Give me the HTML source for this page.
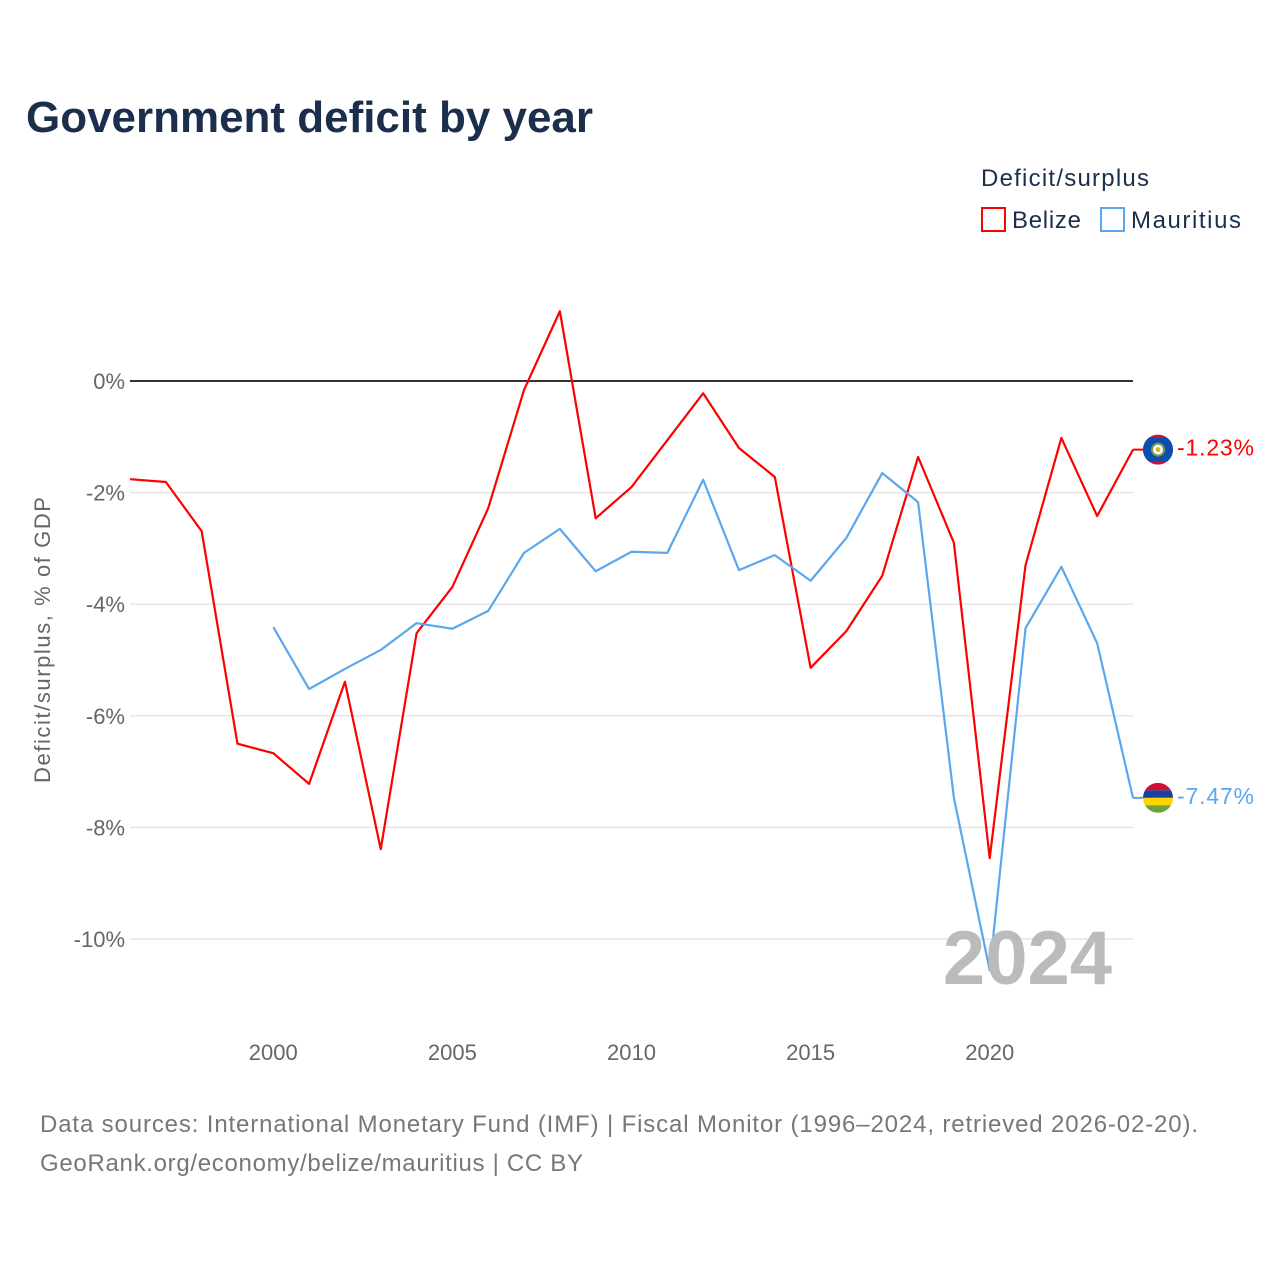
<!DOCTYPE html>
<html><head><meta charset="utf-8">
<style>
body{margin:0;background:#fff;width:1280px;height:1280px;overflow:hidden;font-family:"Liberation Sans",sans-serif;}
</style></head>
<body>
<svg id="chart" width="1280" height="1280" xmlns="http://www.w3.org/2000/svg" font-family="Liberation Sans, sans-serif">
<text x="26" y="132" font-size="44" font-weight="bold" fill="#1b2f4d" textLength="567" lengthAdjust="spacingAndGlyphs">Government deficit by year</text>
<text x="981" y="186" font-size="24" fill="#1b2f4d" textLength="168">Deficit/surplus</text>
<g><rect x="982" y="208" width="23" height="23" fill="none" stroke="#ff0000" stroke-width="2"/><text x="1012" y="228" font-size="24" fill="#1b2f4d" textLength="69">Belize</text></g>
<g><rect x="1101" y="208" width="23" height="23" fill="none" stroke="#5aa7ee" stroke-width="2"/><text x="1131" y="228" font-size="24" fill="#1b2f4d" textLength="110">Mauritius</text></g>
<text transform="translate(50,640) rotate(-90)" text-anchor="middle" font-size="22" fill="#666" textLength="286">Deficit/surplus, % of GDP</text>
<g id="grid"></g><g id="lines"></g><g id="labels"></g>
<text x="1112" y="984" text-anchor="end" font-size="76" font-weight="bold" fill="#bbb">2024</text>
<text x="40" y="1132" font-size="24" fill="#777" textLength="1158">Data sources: International Monetary Fund (IMF) | Fiscal Monitor (1996–2024, retrieved 2026-02-20).</text>
<text x="40" y="1171" font-size="24" fill="#777" textLength="543">GeoRank.org/economy/belize/mauritius | CC BY</text>
</svg>
<script>
const yearsBelize=[1996,1997,1998,1999,2000,2001,2002,2003,2004,2005,2006,2007,2008,2009,2010,2011,2012,2013,2014,2015,2016,2017,2018,2019,2020,2021,2022,2023,2024];
const belize=[-1.76,-1.81,-2.69,-6.5,-6.67,-7.22,-5.39,-8.39,-4.52,-3.69,-2.28,-0.16,1.25,-2.46,-1.9,-1.06,-0.22,-1.2,-1.72,-5.14,-4.48,-3.49,-1.36,-2.9,-8.55,-3.3,-1.02,-2.42,-1.23];
const yearsMauritius=[2000,2001,2002,2003,2004,2005,2006,2007,2008,2009,2010,2011,2012,2013,2014,2015,2016,2017,2018,2019,2020,2021,2022,2023,2024];
const mauritius=[-4.41,-5.52,-5.16,-4.82,-4.34,-4.44,-4.12,-3.08,-2.65,-3.41,-3.06,-3.08,-1.77,-3.39,-3.12,-3.58,-2.81,-1.65,-2.17,-7.47,-10.56,-4.43,-3.33,-4.7,-7.47];
const yTicks=[0,-2,-4,-6,-8,-10];
const xTicks=[2000,2005,2010,2015,2020];
const X=y=>130+(y-1996)*(1133-130)/28;
const Y=v=>381-v*55.8;
const NS="http://www.w3.org/2000/svg";
function mk(tag,attrs,parent){const e=document.createElementNS(NS,tag);for(const k in attrs)e.setAttribute(k,attrs[k]);parent.appendChild(e);return e;}
const grid=document.getElementById('grid'),lines=document.getElementById('lines'),labels=document.getElementById('labels');
yTicks.forEach(t=>{
 const l=mk('line',{x1:130,x2:1133,y1:Y(t),y2:Y(t),stroke:t===0?'#333':'#e6e6e6','stroke-width':t===0?2:1.5},grid);
 
 
 const tx=mk('text',{x:125,y:Y(t)+8,'text-anchor':'end','font-size':22,fill:'#666'},grid);
 tx.textContent=t+'%';
 
 
});
xTicks.forEach(t=>{
 const tx=mk('text',{x:X(t),y:1060,'text-anchor':'middle','font-size':22,fill:'#666'},grid);
 tx.textContent=t;
 
 
});
function series(yrs,vals,color,name){
 const pts=yrs.map((y,i)=>X(y)+','+Y(vals[i])).join(' ');
 const p=mk('polyline',{points:pts,fill:'none',stroke:color,'stroke-width':2.2,'stroke-linejoin':'round'},lines);
 
 
 const last=vals[vals.length-1];
 const ly=Y(last);
 mk('line',{x1:X(yrs[yrs.length-1]),x2:1150,y1:ly,y2:ly,stroke:color,'stroke-width':2},lines);
 const t=mk('text',{x:1177,y:ly+6,'font-size':23,fill:color,textLength:77},labels);
 t.textContent=last.toFixed(2)+'%';
 
 
 return ly;
}
const by=series(yearsBelize,belize,'#ff0000','belize');
const my=series(yearsMauritius,mauritius,'#5aa7ee','mauritius');
const fb=mk('g',{},labels);


const cb=mk('clipPath',{id:'bc'},fb);mk('circle',{cx:1158,cy:by,r:15},cb);
mk('rect',{x:1143,y:by-15,width:30,height:30,fill:'#d21034','clip-path':'url(#bc)'},fb);
mk('rect',{x:1143,y:by-12,width:30,height:24,fill:'#0a4fae','clip-path':'url(#bc)'},fb);
mk('circle',{cx:1158,cy:by,r:6,fill:'#fff',stroke:'#7a9a4a','stroke-width':2},fb);
mk('circle',{cx:1158,cy:by,r:2.5,fill:'#e8b030'},fb);
const fm=mk('g',{},labels);


const cp=mk('clipPath',{id:'mc'},fm);mk('circle',{cx:1158,cy:my,r:15},cp);
['#d21034','#1a3e9e','#ffd500','#6aa33d'].forEach((c,i)=>mk('rect',{x:1143,y:my-15+i*7.5,width:30,height:7.5,fill:c,'clip-path':'url(#mc)'},fm));
</script>
</body></html>
